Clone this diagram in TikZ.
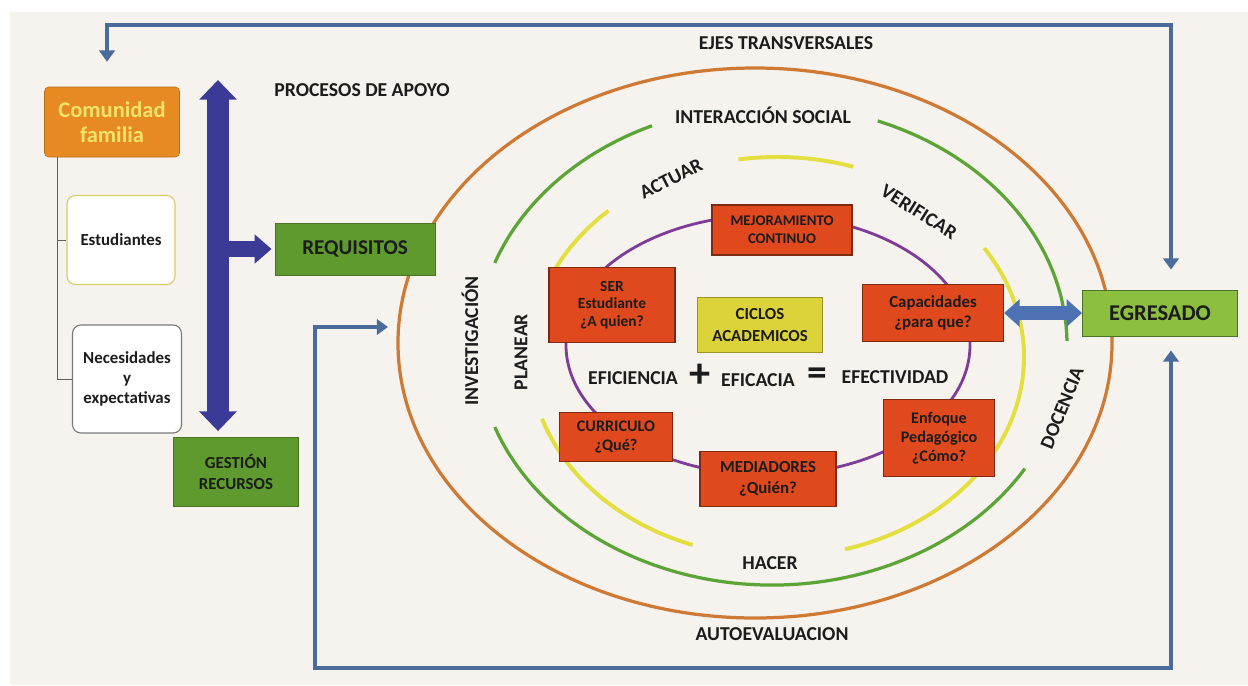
\documentclass[tikz,border=0pt]{standalone}
\usepackage{fontspec}
\setmainfont{Carlito}
\usetikzlibrary{arrows.meta,positioning}

\definecolor{paper}{HTML}{F6F2EE}
\definecolor{textdark}{HTML}{1C1C1C}
\definecolor{lineblue}{HTML}{4A6C9B}
\definecolor{apoyoblue}{HTML}{3B3A97}
\definecolor{dblblue}{HTML}{4C72B3}
\definecolor{comorange}{HTML}{E78A22}
\definecolor{comtext}{HTML}{F2E466}
\definecolor{estline}{HTML}{D9C968}
\definecolor{necline}{HTML}{7A7A7A}
\definecolor{treegray}{HTML}{5E5E5E}
\definecolor{boxgreen}{HTML}{5E9A2D}
\definecolor{egrgreen}{HTML}{8CBE3F}
\definecolor{greenline}{HTML}{4A7424}
\definecolor{boxred}{HTML}{E0481D}
\definecolor{boxredline}{HTML}{7E2A12}
\definecolor{ciclos}{HTML}{DCD33A}
\definecolor{ringorange}{HTML}{CF7A34}
\definecolor{ringgreen}{HTML}{5CA436}
\definecolor{ringyellow}{HTML}{E4DF40}
\definecolor{ringpurple}{HTML}{7D3C98}

\newcommand{\pxu}{0.025cm}
\newcommand{\setfs}[1]{\fontsize{#1}{#1}\selectfont}

\begin{document}
\begin{tikzpicture}[x=0.025cm,y=-0.025cm,
  sz/.style 2 args={minimum width=#1*\pxu, minimum height=#2*\pxu},
  lbl/.style={font=\bfseries\setfs{14}, text=textdark, inner sep=0pt},
  combox/.style={fill=comorange, draw=comorange!80!black, rounded corners=3pt, align=center,
    text=comtext, font=\bfseries\fontsize{16}{18}\selectfont},
  treebox/.style={fill=white, line width=0.8pt, rounded corners=6pt, align=center,
    text=textdark, font=\bfseries\fontsize{12}{14}\selectfont},
  greenbox/.style={fill=boxgreen, draw=greenline, line width=0.6pt, align=center,
    text=textdark, font=\bfseries\fontsize{12}{15}\selectfont},
  redbox/.style={fill=boxred, draw=boxredline, line width=0.9pt, align=center,
    text=textdark, font=\bfseries\fontsize{11}{12.5}\selectfont, inner sep=1pt},
  ring/.style={line width=2.3pt},
  loopline/.style={draw=lineblue, line width=2.2pt},
  looptip/.tip={Triangle[width=11pt,length=8pt]},
  bigarrow/.style={draw=apoyoblue, line width=16pt},
  treeline/.style={draw=treegray, line width=0.7pt}]

  % fondo
  \useasboundingbox (0,0) rectangle (1248,685);
  \fill[white] (0,0) rectangle (1248,685);
  \fill[paper] (10,12) rectangle (1248,685);

  % anillos
  \coordinate (cen) at (755,343);
  \draw[ring, ringorange] (cen) ellipse[x radius=357, y radius=275];
  \coordinate (cverde) at (772,345);
  \draw[ring, ringgreen] (cverde) ++(-1:295 and 240) arc[start angle=-1, end angle=-69, x radius=295, y radius=240];
  \draw[ring, ringgreen] (cverde) ++(-114:295 and 240) arc[start angle=-114, end angle=-160, x radius=295, y radius=240];
  \draw[ring, ringgreen] (cverde) ++(-200:295 and 240) arc[start angle=-200, end angle=-329, x radius=295, y radius=240];
  \coordinate (camar) at (777,357);
  \draw[ring, ringyellow, line width=2.8pt] (camar) ++(-72:247 and 200) arc[start angle=-72, end angle=-99, x radius=247, y radius=200];
  \draw[ring, ringyellow, line width=2.8pt] (camar) ++(-133:247 and 200) arc[start angle=-133, end angle=-157, x radius=247, y radius=200];
  \draw[ring, ringyellow, line width=2.8pt] (camar) ++(-198:247 and 200) arc[start angle=-198, end angle=-250, x radius=247, y radius=200];
  \draw[ring, ringyellow, line width=2.8pt] (camar) ++(-286:247 and 200) arc[start angle=-286, end angle=-393, x radius=247, y radius=200];
  \draw[ring, ringpurple, line width=2pt] (768,345) ellipse[x radius=202, y radius=130];

  % textos de los anillos
  \node[lbl] (ejes) at (786,43) {EJES TRANSVERSALES};
  \node[lbl] (apoyo) at (362,90) {PROCESOS DE APOYO};
  \node[lbl] (inter) at (763,115) {INTERACCIÓN SOCIAL};
  \node[lbl, rotate=27] (actuar) at (671,179) {ACTUAR};
  \node[lbl, rotate=-32] (verif) at (919,212) {VERIFICAR};
  \node[lbl, rotate=90] (inv) at (470,341) {INVESTIGACIÓN};
  \node[lbl, rotate=90] (plan) at (521,352) {PLANEAR};
  \node[lbl, rotate=68] (doc) at (1062,408) {DOCENCIA};
  \node[lbl] (hacer) at (770,563) {HACER};
  \node[lbl] (autoev) at (772,634) {AUTOEVALUACION};

  % ciclo
  \node[redbox, sz={140}{50}, font=\bfseries\fontsize{10.5}{13}\selectfont] (mej) at (782,230) {MEJORAMIENTO\\CONTINUO};
  \node[redbox, sz={126}{75}] (ser) at (612,305) {SER\\Estudiante\\¿A quien?};
  \node[redbox, fill=ciclos, draw=ciclos!70!black, sz={125}{55}, font=\bfseries\fontsize{12}{15}\selectfont] (cic) at (760,325) {CICLOS\\ACADEMICOS};
  \node[redbox, sz={141}{57}, font=\bfseries\fontsize{12}{14}\selectfont] (cap) at (933,313) {Capacidades\\¿para que?};
  \node[redbox, sz={113}{49}, font=\bfseries\fontsize{11.5}{14}\selectfont] (cur) at (616,437) {CURRICULO\\¿Qué?};
  \node[redbox, sz={136}{55}, font=\bfseries\fontsize{12}{15}\selectfont] (med) at (768,479) {MEDIADORES\\¿Quién?};
  \node[redbox, sz={111}{77}, font=\bfseries\fontsize{11.5}{13.5}\selectfont] (enf) at (939,438) {Enfoque\\Pedagógico\\¿Cómo?};

  \node[lbl] (efi) at (633,378) {EFICIENCIA};
  \node[lbl, font=\bfseries\setfs{30}] (mas) at (700,376) {+};
  \node[lbl] (efa) at (758,380) {EFICACIA};
  \node[lbl, font=\bfseries\setfs{28}] (igual) at (817,377) {=};
  \node[lbl] (efe) at (895,377) {EFECTIVIDAD};

  % columna izquierda
  \node[combox, sz={135}{70}] (com) at (112,122) {Comunidad\\familia};
  \node[treebox, draw=estline, sz={108}{89}] (est) at (121,240) {Estudiantes};
  \node[treebox, draw=necline, sz={109}{108}] (nec) at (127,379) {Necesidades\\y\\expectativas};
  \draw[treeline] ([xshift=13*\pxu]com.south west) |- (est.west);
  \draw[treeline] ([xshift=13*\pxu]com.south west) |- (nec.west);

  \node[greenbox, sz={160}{52}, font=\bfseries\setfs{15}] (req) at (355,249) {REQUISITOS};
  \node[greenbox, sz={125}{69}] (ges) at (236,472) {GESTIÓN\\RECURSOS};
  \node[greenbox, fill=egrgreen, sz={155}{46}, font=\bfseries\setfs{16}] (egr) at (1160,313) {EGRESADO};

  % flechas de apoyo
  \coordinate (apoyoT) at (218,80);
  \draw[bigarrow, {Triangle[width=26pt,length=14pt]}-{Triangle[width=26pt,length=14pt]}, shorten >=6*\pxu]
    (apoyoT) -- (apoyoT |- ges.north);
  \draw[bigarrow, line width=11pt, -{Triangle[width=20pt,length=12pt]}, shorten >=3*\pxu]
    (apoyoT |- req.west) -- (req.west);
  \draw[draw=dblblue, line width=10pt, {Triangle[width=19pt,length=11pt]}-{Triangle[width=19pt,length=11pt]}]
    (cap.east) -- (egr.west);

  % lazos
  \coordinate (ejesR) at (1171,25);
  \coordinate (autoL) at (315,668);
  \coordinate (autoW) at (388,327);
  \draw[loopline, looptip-looptip, shorten <=20*\pxu, shorten >=25*\pxu]
    (ejesR |- egr.north) -- (ejesR) -| ([xshift=-5*\pxu]com.north);
  \draw[loopline, looptip-looptip, shorten >=14*\pxu]
    (autoW) -| (autoL) -| (ejesR |- egr.south);

\end{tikzpicture}
\end{document}
